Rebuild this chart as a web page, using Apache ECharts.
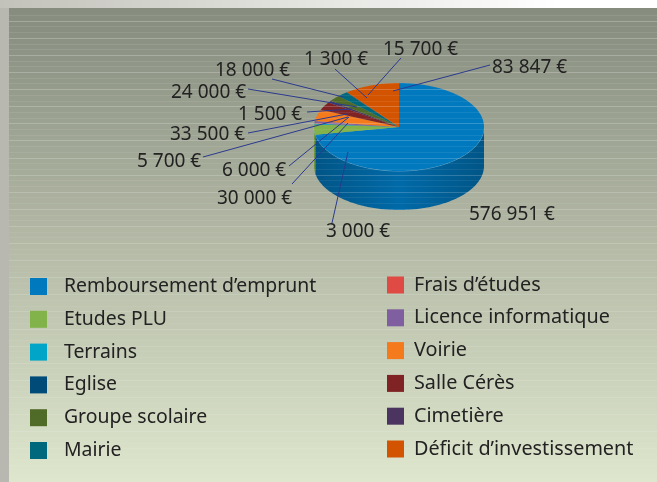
<!DOCTYPE html>
<html>
<head>
<meta charset="utf-8">
<style>
  html, body { margin: 0; padding: 0; background: #fff; }
  #chart { width: 657px; height: 482px; }
</style>
<script src="https://cdn.jsdelivr.net/npm/echarts@6/dist/echarts.min.js"></script>
</head>
<body>
<div id="chart"></div>
<script>
  // legend order
  const categories = ['Remboursement d’emprunt', 'Etudes PLU', 'Terrains', 'Eglise', 'Groupe scolaire', 'Mairie',
    'Frais d’études', 'Licence informatique', 'Voirie', 'Salle Cérès', 'Cimetière', 'Déficit d’investissement']
  const values = [576951, 30000, 3000, 1300, 18000, 15700, 1500, 5700, 33500, 24000, 6000, 83847]
  const colors = ['#0079bf', '#82b34a', '#00a5c8', '#004b78', '#4f6b27', '#00687c',
    '#e04a45', '#7f5fa0', '#f47a1c', '#7f2325', '#4b3560', '#d35400']
  // clockwise from 12 o'clock, slices do not follow the legend order
  const sliceOrder = [0, 1, 2, 6, 7, 8, 9, 10, 4, 5, 3, 11]

  // label box [x, y] then leader [x1, y1, x2, y2], by category index
  const labelPos = [[469, 215], [217, 199], [326, 232], [304, 60], [215, 71], [383, 50],
    [238, 115], [137, 162], [170, 135], [171, 93], [222, 171], [492, 68]]
  const leaders = [null, [292, 184, 348, 123], [332, 223, 348, 152], [335, 69, 367, 98], [272, 79, 343, 97], [401, 58, 368, 95],
    [307, 112, 352, 109], [203, 157, 348, 117], [248, 133, 347, 114], [248, 89, 357, 107], [289, 166, 349, 117], [490, 65, 393, 91]]

  const cx = 399, cy = 127, rx = 85, ry = 44, depth = 39
  const total = values.reduce((a, b) => a + b, 0)
  const font = '19px "Noto Sans"'

  const startAngle = {}
  let acc = 0
  sliceOrder.forEach((i) => {
    startAngle[i] = acc / total * Math.PI * 2
    acc += values[i]
  })

  function rim(a, dy) {
    return [cx + rx * Math.sin(a), cy - ry * Math.cos(a) + (dy || 0)]
  }

  function arcPoints(a0, a1, dy) {
    const n = Math.max(2, Math.ceil((a1 - a0) / 0.02))
    const pts = []
    for (let k = 0; k <= n; k++) pts.push(rim(a0 + (a1 - a0) * k / n, dy))
    return pts
  }

  function darken(hex, f) {
    const n = parseInt(hex.slice(1), 16)
    return 'rgb(' + Math.round((n >> 16) * f) + ',' + Math.round(((n >> 8) & 255) * f) + ',' + Math.round((n & 255) * f) + ')'
  }

  function sliceItem(i) {
    return function (params, api) {
      const a0 = startAngle[i]
      const a1 = a0 + api.value(0) / total * Math.PI * 2
      const children = []
      // only the front half of the wall shows
      const w0 = Math.max(a0, Math.PI / 2)
      const w1 = Math.min(a1, Math.PI * 1.5)
      if (w1 > w0) {
        const top = arcPoints(w0, w1, 0)
        const bottom = arcPoints(w0, w1, depth).reverse()
        children.push({
          type: 'polygon',
          shape: {points: top.concat(bottom)},
          style: {
            fill: {
              type: 'linear', x: 0, y: 0, x2: 1, y2: 0,
              colorStops: [
                {offset: 0, color: darken(colors[i], 0.7)},
                {offset: 0.5, color: darken(colors[i], 0.88)},
                {offset: 1, color: darken(colors[i], 0.7)}
              ]
            }
          }
        })
        children.push({
          type: 'polyline',
          shape: {points: top},
          style: {fill: null, stroke: 'rgba(150,200,230,0.55)', lineWidth: 1}
        })
      }
      children.push({
        type: 'polygon',
        shape: {points: [[cx, cy]].concat(arcPoints(a0, a1, 0))},
        style: {fill: colors[i]}
      })
      return {type: 'group', children: children}
    }
  }

  const series = sliceOrder.map((i) => ({
    type: 'custom',
    name: categories[i],
    coordinateSystem: 'none',
    itemStyle: {color: colors[i]},
    renderItem: sliceItem(i),
    data: [[values[i]]],
    z: 2
  }))

  const graphics = [
    {type: 'rect', silent: true, z: -5, shape: {x: 0, y: 0, width: 657, height: 482},
      style: {fill: '#b8b8b0'}},
    {type: 'rect', silent: true, z: -4, shape: {x: 0, y: 0, width: 657, height: 8},
      style: {fill: {type: 'linear', x: 0, y: 0, x2: 1, y2: 0,
        colorStops: [{offset: 0, color: '#c2c2ba'}, {offset: 0.85, color: '#ffffff'}, {offset: 1, color: '#ffffff'}]}}},
    {type: 'rect', silent: true, z: -3, shape: {x: 9, y: 8, width: 648, height: 474},
      style: {fill: {type: 'linear', x: 0, y: 0, x2: 0, y2: 1,
        colorStops: [{offset: 0, color: '#868c7e'}, {offset: 0.5, color: '#b4baa6'}, {offset: 1, color: '#dee6cd'}]}}}
  ]

  // the light scan lines of the panel
  for (let k = 0; k < 82; k++) {
    const y = 15.5 + Math.round(k * 5.7)
    const strong = k % 3 === 1
    graphics.push({
      type: 'line', silent: true, z: 5,
      shape: {x1: 9, y1: y, x2: 657, y2: y},
      style: {stroke: '#ffffff', lineWidth: 1, opacity: (strong ? 0.24 : 0.09) * (1 - k / 130)}
    })
  }

  leaders.forEach((l) => {
    if (!l) return
    graphics.push({
      type: 'line', silent: true, z: 8,
      shape: {x1: l[0], y1: l[1], x2: l[2], y2: l[3]},
      style: {stroke: '#2b3a8f', lineWidth: 1}
    })
  })

  function euro(v) {
    return String(v).replace(/\B(?=(\d{3})+$)/g, ' ') + ' €'
  }

  values.forEach((v, i) => {
    graphics.push({
      type: 'text', silent: true, z: 9,
      style: {x: labelPos[i][0], y: labelPos[i][1], text: euro(v), font: font, fill: '#222', verticalAlign: 'middle'}
    })
  })

  const legendCommon = {
    orient: 'vertical',
    icon: 'rect',
    itemWidth: 17,
    itemHeight: 17,
    padding: 0,
    selectedMode: false,
    z: 10
  }

  const chart = echarts.init(document.getElementById('chart'))
  chart.setOption({
    animation: false,
    graphic: graphics,
    legend: [
      Object.assign({}, legendCommon, {
        left: 30, top: 277, itemGap: 13.8,
        data: categories.slice(0, 6),
        textStyle: {fontFamily: 'Noto Sans', fontSize: 19.4, lineHeight: 17, color: '#222', padding: [0, 0, 0, 12]}
      }),
      Object.assign({}, legendCommon, {
        left: 387, top: 275, itemGap: 12.8,
        data: categories.slice(6),
        textStyle: {fontFamily: 'Noto Sans', fontSize: 19.8, lineHeight: 17, color: '#222', padding: [0, 0, 0, 5]}
      })
    ],
    series: series
  })
</script>
</body>
</html>
